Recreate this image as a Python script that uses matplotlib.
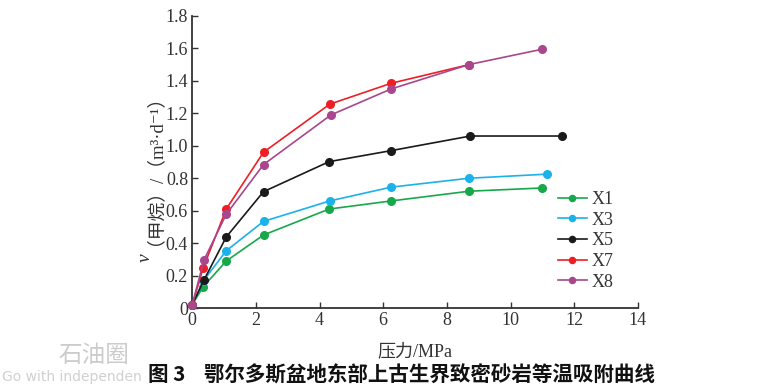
import matplotlib
matplotlib.use("Agg")
import matplotlib.pyplot as plt

plt.rcParams['font.family'] = ['Liberation Serif', 'Noto Sans CJK SC', 'DejaVu Sans']

# pressure (MPa) and adsorbed methane for each sample
p_x1 = [0, 0.34, 1.07, 2.24, 4.3, 6.25, 8.7, 11.0]
v_x1 = [0.02, 0.13, 0.29, 0.45, 0.61, 0.66, 0.72, 0.74]
p_x3 = [0, 0.34, 1.07, 2.24, 4.32, 6.25, 8.7, 11.15]
v_x3 = [0.02, 0.165, 0.353, 0.534, 0.66, 0.745, 0.80, 0.825]
p_x5 = [0, 0.37, 1.07, 2.24, 4.3, 6.25, 8.74, 11.63]
v_x5 = [0.02, 0.173, 0.438, 0.717, 0.902, 0.97, 1.06, 1.06]
p_x7 = [0, 0.34, 1.07, 2.24, 4.32, 6.25, 8.7]
v_x7 = [0.02, 0.245, 0.61, 0.96, 1.256, 1.385, 1.50]
p_x8 = [0, 0.37, 1.07, 2.24, 4.36, 6.25, 8.69, 11.0]
v_x8 = [0.02, 0.296, 0.578, 0.884, 1.19, 1.35, 1.50, 1.595]

names = ['X1', 'X3', 'X5', 'X7', 'X8']
colors = ['#17a84b', '#1bb2ea', '#1a1a1a', '#ee1f24', '#a8468e']
series = [(p_x1, v_x1), (p_x3, v_x3), (p_x5, v_x5), (p_x7, v_x7), (p_x8, v_x8)]

fig = plt.figure(figsize=(7.75, 3.88), dpi=100)
ax = fig.add_axes([0.248, 0.206, 0.575, 0.753])

for (p, v), name, c in zip(series, names, colors):
    ax.plot(p, v, color=c, marker='o', markersize=5.5, linewidth=1.2, label=name,
            clip_on=False, zorder=3)

ax.set_xlim(0, 14)
ax.set_ylim(0, 1.8)
ax.set_xticks(range(0, 15, 2))
ax.set_yticks([0, 0.2, 0.4, 0.6, 0.8, 1.0, 1.2, 1.4, 1.6, 1.8])
ax.set_yticklabels(['0', '0.2', '0.4', '0.6', '0.8', '1.0', '1.2', '1.4', '1.6', '1.8'])
ax.spines['top'].set_visible(False)
ax.spines['right'].set_visible(False)
for s in ['left', 'bottom']:
    ax.spines[s].set_linewidth(1.3)
    ax.spines[s].set_color('#333333')
ax.tick_params(direction='in', length=4, width=1, labelsize=13, colors='#333333',
               labelcolor='#333333', pad=3)

ax.set_xlabel('压力/MPa', fontsize=13, color='#333333', labelpad=10)

# y label: italic v followed by the rest, drawn as two rotated texts
fig.text(0.188, 0.348, 'v', rotation=90, ha='center', va='top', fontsize=14,
         style='italic', color='#333333', family=['Liberation Serif'])
fig.text(0.188, 0.368, '（甲烷）/（m³·d⁻¹）', rotation=90, ha='center', va='bottom',
         fontsize=13.5, color='#333333',
         family=['Liberation Serif', 'Noto Sans CJK SC', 'DejaVu Sans'])

ax.legend(loc='upper left', bbox_to_anchor=(0.82, 0.40), frameon=False, fontsize=13,
          handlelength=1.6, handletextpad=0.3, labelspacing=0.2, markerscale=0.8,
          borderaxespad=0, borderpad=0, labelcolor='#333333')

fig.text(0.518, 0.033, '图 3    鄂尔多斯盆地东部上古生界致密砂岩等温吸附曲线',
         ha='center', va='center', fontsize=14.8, fontweight='bold',
         family=['Noto Sans CJK SC', 'DejaVu Sans'], color='#111111')

# faint watermark
fig.text(0.075, 0.085, '石油圈', fontsize=17, color='#cccccc',
         family=['Noto Sans CJK SC', 'DejaVu Sans'], va='center')
fig.text(0.003, 0.028, 'Go with independen', fontsize=10, color='#d0d0d0',
         family=['DejaVu Sans'], va='center', zorder=0)

fig.savefig('out.png', dpi=100)
